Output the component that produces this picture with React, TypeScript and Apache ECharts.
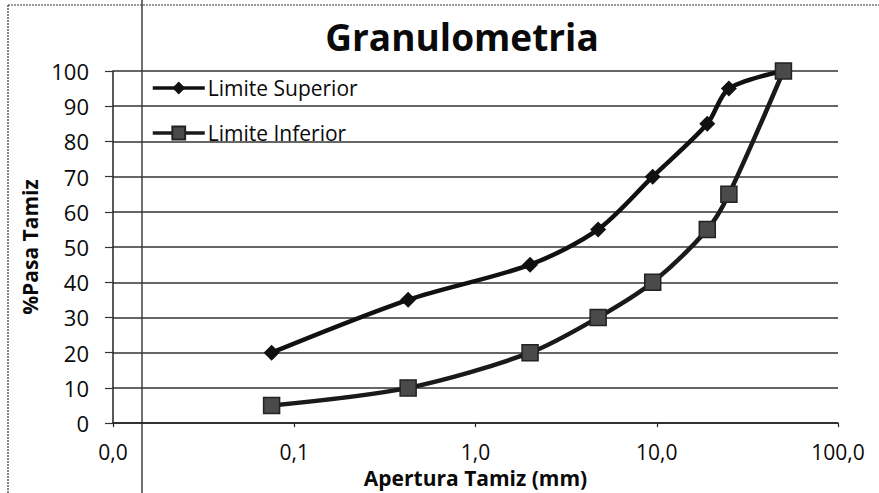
import React, { useEffect, useRef } from "react";
import * as echarts from "echarts";

const sieveSizes = [0.075, 0.425, 2, 4.75, 9.5, 19, 25, 50];
const limiteSuperior = [20, 35, 45, 55, 70, 85, 95, 100];
const limiteInferior = [5, 10, 20, 30, 40, 55, 65, 100];
const seriesNames = ["Limite Superior", "Limite Inferior"];
const titleText = "Granulometria";
const xName = "Apertura Tamiz (mm)";
const yName = "%Pasa Tamiz";

const FONT = "'Open Sans', 'Noto Sans', sans-serif";

export default function App() {
  const ref = useRef<HTMLDivElement>(null);
  useEffect(() => {
    if (!ref.current) return;
    const chart = echarts.init(ref.current, null, { renderer: "svg" });
    const pair = (ys: number[]) => sieveSizes.map((x, i) => [x, ys[i]]);
    chart.setOption({
      animation: false,
      backgroundColor: "#ffffff",
      title: {
        text: titleText,
        left: 457,
        top: 13,
        textAlign: "center",
        textStyle: { fontFamily: FONT, fontSize: 37, fontWeight: "bold", color: "#0a0a0a" },
      },
      legend: {
        orient: "vertical",
        left: 146,
        top: 71,
        itemWidth: 52,
        itemHeight: 16,
        itemGap: 21,
        data: seriesNames,
        lineStyle: { width: 3.5 },
        textStyle: { fontFamily: FONT, fontSize: 21, color: "#0a0a0a", lineHeight: 24, padding: [0, 0, 0, -2] },
      },
      grid: { left: 113, right: 41, top: 71, bottom: 69 },
      xAxis: {
        type: "log",
        logBase: 10,
        min: 0.01,
        max: 100,
        name: xName,
        nameLocation: "middle",
        nameGap: 33,
        nameTextStyle: { fontFamily: FONT, fontSize: 21, fontWeight: "bold", color: "#0a0a0a" },
        axisLine: { show: true, lineStyle: { color: "#222", width: 1.5 } },
        axisTick: { show: true, length: 4, lineStyle: { color: "#222", width: 1.2 } },
        minorTick: { show: false },
        splitLine: { show: false },
        axisLabel: {
          fontFamily: FONT,
          fontSize: 21,
          color: "#0a0a0a",
          margin: 18,
          formatter: (v: number) => v.toFixed(1).replace(".", ","),
        },
      },
      yAxis: {
        type: "value",
        min: 0,
        max: 100,
        interval: 10,
        name: yName,
        nameLocation: "middle",
        nameGap: 73,
        nameTextStyle: { fontFamily: FONT, fontSize: 21, fontWeight: "bold", color: "#0a0a0a" },
        axisLine: { show: true, lineStyle: { color: "#222", width: 1.5 } },
        axisTick: { show: true, length: 8, lineStyle: { color: "#333", width: 1.2 } },
        splitLine: { show: true, lineStyle: { color: "#333", width: 1.5 } },
        axisLabel: { fontFamily: FONT, fontSize: 22, color: "#0a0a0a", margin: 24 },
      },
      series: [
        {
          name: seriesNames[0],
          type: "line",
          data: pair(limiteSuperior),
          smooth: 0.3,
          symbol: "diamond",
          symbolSize: 16,
          lineStyle: { color: "#111", width: 4.5 },
          itemStyle: { color: "#111" },
        },
        {
          name: seriesNames[1],
          type: "line",
          data: pair(limiteInferior),
          smooth: 0.3,
          symbol: "rect",
          symbolSize: 16,
          lineStyle: { color: "#1a1a1a", width: 4.5 },
          itemStyle: { color: "#4a4a4a", borderColor: "#222", borderWidth: 1.5 },
        },
      ],
      graphic: [
        { type: "line", shape: { x1: 8, y1: 5, x2: 879, y2: 5 }, style: { stroke: "#333", lineWidth: 1.2, lineDash: [2, 1] } },
        { type: "line", shape: { x1: 8, y1: 5, x2: 8, y2: 493 }, style: { stroke: "#333", lineWidth: 1.2, lineDash: [2, 1] } },
        { type: "line", shape: { x1: 142, y1: 0, x2: 142, y2: 493 }, style: { stroke: "#111", lineWidth: 1.2 } },
      ],
    });
    return () => chart.dispose();
  }, []);
  return (
    <div
      ref={ref}
      style={{ position: "fixed", left: 0, top: 0, width: 879, height: 493, background: "#fff" }}
    />
  );
}
